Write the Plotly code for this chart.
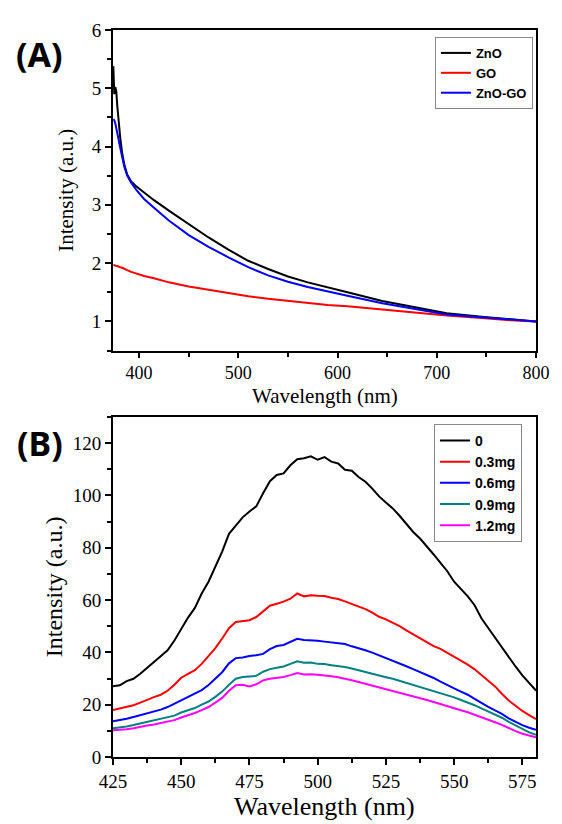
import numpy as np
import plotly.graph_objects as go

# ---------------- Panel A data ----------------
wl_A = [374, 375, 376, 377, 378, 379, 381, 383, 385, 388, 392, 397, 405, 415, 430,
        450, 470, 490, 510, 530, 550, 570, 590, 610, 645, 680, 710, 745, 775, 800]
zno = [5.38, 4.90, 5.02, 4.95, 4.70, 4.50, 4.15, 3.88, 3.70, 3.52, 3.40, 3.32, 3.21, 3.08, 2.90,
       2.67, 2.44, 2.23, 2.04, 1.90, 1.77, 1.67, 1.59, 1.50, 1.35, 1.24, 1.14, 1.08, 1.03, 1.00]
go_ = [1.97, 1.96, 1.96, 1.95, 1.95, 1.94, 1.93, 1.92, 1.90, 1.88, 1.85, 1.82, 1.78, 1.74, 1.67,
       1.60, 1.54, 1.48, 1.43, 1.39, 1.35, 1.32, 1.28, 1.26, 1.20, 1.14, 1.10, 1.06, 1.02, 1.00]
zno_go = [4.47, 4.45, 4.40, 4.33, 4.25, 4.15, 3.98, 3.80, 3.66, 3.50, 3.38, 3.26, 3.10, 2.95, 2.73,
          2.48, 2.28, 2.10, 1.93, 1.79, 1.68, 1.59, 1.52, 1.44, 1.31, 1.21, 1.12, 1.07, 1.03, 1.00]
names_A = ["ZnO", "GO", "ZnO-GO"]
colors_A = ["#000000", "#FF0000", "#0000FF"]

# ---------------- Panel B data ----------------
wl_B = list(np.arange(425, 580.01, 2.5))
b0 = [27.0, 27.4, 29.0, 29.9, 31.8, 34.0, 36.2, 38.6, 40.8, 44.5, 48.8, 53.3, 57.0, 62.5, 67.0, 73.0,
      78.5, 85.3, 88.4, 91.6, 93.8, 95.8, 100.8, 105.4, 107.8, 108.4, 111.5, 113.8, 114.2, 114.9, 113.6, 114.6,
      112.9, 112.2, 109.8, 109.4, 107.0, 105.2, 102.6, 99.6, 97.3, 95.0, 92.2, 89.1, 86.0, 83.5, 80.6, 77.4,
      74.2, 71.0, 67.0, 64.2, 61.4, 58.0, 53.0, 49.3, 45.5, 42.0, 38.2, 34.6, 31.2, 28.2, 25.4]
b03 = [18.0, 18.6, 19.0, 19.8, 20.8, 22.0, 22.9, 23.8, 25.3, 27.6, 30.3, 31.8, 33.2, 35.6, 38.4, 41.6,
       45.3, 49.2, 51.6, 52.0, 52.3, 53.5, 55.6, 57.8, 58.6, 59.4, 60.5, 62.5, 61.4, 61.8, 61.6, 61.5,
       60.9, 60.4, 59.5, 58.6, 57.7, 56.5, 55.2, 53.6, 52.6, 51.4, 50.0, 48.4, 46.9, 45.4, 44.0, 42.4,
       41.3, 39.8, 38.6, 37.0, 35.3, 33.5, 31.4, 29.0, 27.0, 24.2, 21.6, 19.6, 17.6, 16.0, 14.5]
b06 = [13.7, 14.1, 14.6, 15.3, 16.0, 16.6, 17.2, 18.1, 19.1, 20.4, 21.4, 22.7, 24.2, 25.6, 27.5, 29.8,
       32.4, 35.8, 37.8, 38.0, 38.6, 38.9, 39.4, 41.2, 42.4, 42.8, 44.0, 45.2, 44.7, 44.6, 44.4, 44.1,
       43.8, 43.6, 43.2, 42.3, 41.6, 40.8, 39.9, 38.9, 38.0, 36.9, 35.8, 34.7, 33.6, 32.5, 31.4, 30.2,
       28.8, 27.4, 26.2, 25.0, 23.8, 22.2, 20.6, 19.2, 17.8, 16.5, 14.8, 13.4, 12.2, 11.2, 10.4]
b09 = [11.0, 11.3, 11.7, 12.2, 12.8, 13.3, 13.9, 14.5, 15.0, 15.8, 17.0, 17.8, 18.7, 20.0, 21.2, 23.0,
       25.0, 27.6, 29.9, 30.6, 30.8, 31.0, 32.6, 33.6, 34.1, 34.6, 35.6, 36.6, 36.0, 36.1, 35.6, 35.5,
       35.1, 34.8, 34.4, 33.8, 33.1, 32.6, 31.9, 31.2, 30.5, 29.9, 29.1, 28.4, 27.7, 26.9, 26.0, 25.3,
       24.3, 23.5, 22.8, 21.8, 20.9, 19.8, 18.6, 17.4, 16.4, 15.0, 13.4, 12.0, 10.6, 9.4, 8.5]
b12 = [10.2, 10.3, 10.6, 11.0, 11.6, 12.0, 12.4, 12.9, 13.4, 14.1, 15.1, 15.9, 16.8, 17.9, 19.1, 20.8,
       22.6, 25.3, 27.4, 27.6, 27.0, 27.8, 29.3, 29.9, 30.3, 30.6, 31.3, 32.1, 31.5, 31.6, 31.4, 31.2,
       30.9, 30.5, 30.0, 29.3, 28.7, 28.0, 27.4, 26.8, 26.0, 25.3, 24.7, 24.0, 23.4, 22.6, 21.8, 21.0,
       20.3, 19.5, 18.7, 17.9, 17.1, 16.2, 15.2, 14.2, 13.3, 12.3, 11.0, 9.9, 8.9, 8.1, 7.5]
names_B = ["0", "0.3mg", "0.6mg", "0.9mg", "1.2mg"]
colors_B = ["#000000", "#FF0000", "#0000FF", "#008080", "#FF00FF"]

fig = go.Figure()
for name, y, c in zip(names_A, [zno, go_, zno_go], colors_A):
    fig.add_trace(go.Scatter(x=wl_A, y=y, mode="lines", name=name,
                             line=dict(color=c, width=2), xaxis="x", yaxis="y", legend="legend"))
for name, y, c in zip(names_B, [b0, b03, b06, b09, b12], colors_B):
    fig.add_trace(go.Scatter(x=wl_B, y=y, mode="lines", name=name,
                             line=dict(color=c, width=2), xaxis="x2", yaxis="y2", legend="legend2"))

serif = "Liberation Serif"
tickfont = dict(family=serif, size=19, color="black")
axline = dict(showline=True, linecolor="black", linewidth=2, mirror=True,
              ticks="outside", tickwidth=2, tickcolor="black",
              showgrid=False, zeroline=False)
minor_style = dict(ticks="outside", ticklen=4, tickwidth=2, tickcolor="black")

# page has an 8px body margin; plot area in window pixels: x 113..544, y 26..757
OFF = 8
PL, PR, PT, PB = 113, 544, 26, 757
W = PR - PL
H = PB - PT

def px_to_paper(xp, yp):
    return (xp - PL) / W, (PB - yp) / H

fig.update_layout(
    width=562 - OFF, height=824 - OFF,
    margin=dict(l=PL - OFF, r=562 - PR, t=PT - OFF, b=824 - PB),
    paper_bgcolor="white", plot_bgcolor="white",
    xaxis=dict(domain=[0, 1], anchor="y", range=[373.7, 800], tick0=400, dtick=100, ticklen=5,
               tickfont=dict(family=serif, size=18, color="black"),
               minor=dict(dtick=50, tick0=400, **minor_style), **axline),
    yaxis=dict(domain=[(PB - 348.3) / H, 1], anchor="x", range=[0.5, 6], tick0=1, dtick=1, ticklen=6,
               tickfont=tickfont,
               minor=dict(dtick=0.5, tick0=0.5, **minor_style),
               title=dict(text="Intensity (a.u.)", font=dict(family=serif, size=21, color="black"), standoff=12),
               **axline),
    xaxis2=dict(domain=[0, 1], anchor="y2", range=[425, 580], tick0=425, dtick=25, ticklen=6,
                tickfont=tickfont,
                minor=dict(dtick=12.5, tick0=425, **minor_style), **axline),
    yaxis2=dict(domain=[0, (PB - 415) / H], anchor="x2", range=[0, 130], tick0=0, dtick=20, ticklen=6,
                tickfont=tickfont,
                minor=dict(dtick=10, tick0=0, **minor_style),
                title=dict(text="Intensity (a.u.)", font=dict(family=serif, size=24, color="black"), standoff=3),
                **axline),
    legend=dict(x=px_to_paper(441, 33)[0], y=px_to_paper(441, 33)[1], xanchor="left", yanchor="top",
                bgcolor="white", bordercolor="#888888", borderwidth=1,
                font=dict(family="Liberation Sans", size=13, color="black", weight="bold"),
                tracegroupgap=0),
    legend2=dict(x=px_to_paper(440, 422)[0], y=px_to_paper(440, 422)[1], xanchor="left", yanchor="top",
                 bgcolor="white", bordercolor="#888888", borderwidth=1,
                 font=dict(family="Liberation Sans", size=14, color="black", weight="bold"),
                 tracegroupgap=0),
)

ann = []
for txt, xp, yp, size in [("<b>(A)</b>", 12, 50, 34), ("<b>(B)</b>", 13, 441, 34)]:
    xx, yy = px_to_paper(xp, yp)
    ann.append(dict(text=txt, x=xx, y=yy, xref="paper", yref="paper",
                    xanchor="left", yanchor="middle", showarrow=False,
                    font=dict(family="Noto Sans", size=size, color="black")))
for txt, xp, yp, size in [("Wavelength (nm)", 329, 394, 21), ("Wavelength (nm)", 329, 807, 26)]:
    xx, yy = px_to_paper(xp, yp)
    ann.append(dict(text=txt, x=xx, y=yy, xref="paper", yref="paper",
                    xanchor="center", yanchor="middle", showarrow=False,
                    font=dict(family=serif, size=size, color="black")))
fig.update_layout(annotations=ann)

fig.write_html("out.html")
